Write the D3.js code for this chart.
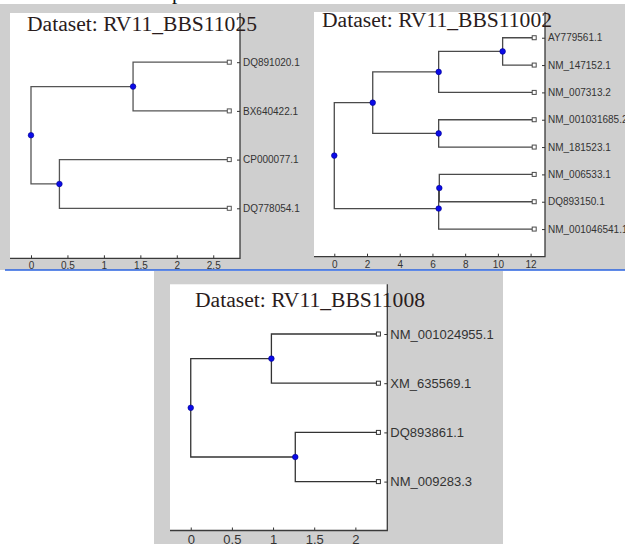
<!DOCTYPE html>
<html lang="en">
  <head>
    <meta charset="utf-8" />
    <title>Dendrograms</title>
    <script type="text/javascript" src="https://d3js.org/d3.v7.min.js"></script>
    <style>
      body { margin: 0; background: #fff; }
    </style>
  </head>
  <body>
    <script type="text/javascript">
      // Leaf names, top to bottom, and the joins (child indices, join distance)
      const leaves1 = ["DQ891020.1", "BX640422.1", "CP000077.1", "DQ778054.1"];
      const joins1 = [[0, 1], [2, 3], [4, 5]];
      const heights1 = [1.40, 0.39, 0];
      const leafDist1 = 2.72;
      const ticks1 = [0, 0.5, 1, 1.5, 2, 2.5];

      const leaves2 = ["AY779561.1", "NM_147152.1", "NM_007313.2", "NM_001031685.2",
                       "NM_181523.1", "NM_006533.1", "DQ893150.1", "NM_001046541.1"];
      const joins2 = [[0, 1], [8, 2], [3, 4], [9, 10], [5, 6], [12, 7], [11, 13]];
      const heights2 = [10.29, 6.38, 6.38, 2.35, 6.42, 6.38, 0];
      const leafDist2 = 12.22;
      const ticks2 = [0, 2, 4, 6, 8, 10, 12];

      const leaves3 = ["NM_001024955.1", "XM_635569.1", "DQ893861.1", "NM_009283.3"];
      const joins3 = [[0, 1], [2, 3], [4, 5]];
      const heights3 = [0.98, 1.27, 0];
      const leafDist3 = 2.28;
      const ticks3 = [0, 0.5, 1, 1.5, 2];

      const GRAY = "#cfcfcf";
      const LINE = "#4a4a4a";
      const NODE_BLUE = "#0b0be8";

      const svg = d3.select("body").append("svg")
        .attr("width", 625).attr("height", 544);

      // screenshot backgrounds
      svg.append("rect").attr("x", 0).attr("y", 4).attr("width", 625).attr("height", 266).attr("fill", GRAY);
      svg.append("rect").attr("x", 154).attr("y", 271).attr("width", 349).attr("height", 273).attr("fill", GRAY);
      svg.append("line").attr("x1", 5).attr("x2", 625).attr("y1", 270).attr("y2", 270)
        .attr("stroke", "#2a63e0").attr("stroke-width", 1.5);

      // cut-off caption above
      svg.append("text").attr("x", 172).attr("y", -1)
        .style("font-family", "'Liberation Serif', serif").style("font-size", "21px")
        .attr("fill", "#111").text("p");

      function drawTree(cfg) {
        const g = svg.append("g");
        const n = cfg.leaves.length;

        // white plot area
        g.append("rect")
          .attr("x", cfg.left).attr("y", cfg.top)
          .attr("width", cfg.right - cfg.left).attr("height", cfg.axisY - cfg.top)
          .attr("fill", "#fff");

        const x = d3.scaleLinear().domain(cfg.xDomain).range([cfg.left, cfg.right]);
        const y = d3.scaleLinear().domain([0, n + 1]).range(cfg.yRange);

        // build nodes: leaves first, then joins
        const nodes = cfg.leaves.map((name, i) => ({ name: name, pos: i + 1, dist: cfg.leafDist, leaf: true }));
        cfg.joins.forEach((j, k) => {
          const a = nodes[j[0]], b = nodes[j[1]];
          nodes.push({ pos: (a.pos + b.pos) / 2, dist: cfg.heights[k], kids: [a, b] });
        });
        const inner = nodes.filter((d) => !d.leaf);

        // elbow branches
        const branches = [];
        inner.forEach((p) => p.kids.forEach((c) => branches.push({ p: p, c: c })));
        g.selectAll(".branch").data(branches).enter().append("path")
          .attr("class", "branch")
          .attr("fill", "none")
          .attr("stroke", cfg.lineColor)
          .attr("stroke-width", 1.3)
          .attr("d", (d) => "M" + x(d.p.dist) + "," + y(d.p.pos) + "V" + y(d.c.pos) + "H" + x(d.c.dist));

        // leaf squares
        g.selectAll(".leaf").data(nodes.filter((d) => d.leaf)).enter().append("rect")
          .attr("class", "leaf")
          .attr("x", (d) => x(d.dist) - 2).attr("y", (d) => y(d.pos) - 2)
          .attr("width", 4).attr("height", 4)
          .attr("fill", "#fff").attr("stroke", cfg.lineColor).attr("stroke-width", 1);

        // internal node dots
        g.selectAll(".node").data(inner).enter().append("circle")
          .attr("class", "node")
          .attr("cx", (d) => x(d.dist)).attr("cy", (d) => y(d.pos))
          .attr("r", 2.8)
          .attr("fill", NODE_BLUE).attr("stroke", "#00008a").attr("stroke-width", 0.6);

        // bottom axis
        const xAxis = g.append("g")
          .attr("transform", "translate(0," + cfg.axisY + ")")
          .call(d3.axisBottom(x).tickValues(cfg.ticks).tickFormat(d3.format("")).tickSizeInner(-3).tickSizeOuter(0).tickPadding(4));
        // right axis with leaf names
        const yAxis = g.append("g")
          .attr("transform", "translate(" + cfg.right + ",0)")
          .call(d3.axisRight(y).tickValues(d3.range(1, n + 1)).tickFormat((i) => cfg.leaves[i - 1]).tickSizeInner(-3).tickSizeOuter(0).tickPadding(3));

        [xAxis, yAxis].forEach((ax) => {
          ax.select(".domain").remove();
          ax.selectAll("line").attr("stroke", "#333");
          ax.selectAll("text")
            .attr("fill", "#333")
            .style("font-family", "'Liberation Sans', Arial, sans-serif")
            .style("font-size", cfg.fontSize + "px");
        });

        // box edges: bottom and right
        g.append("path")
          .attr("fill", "none").attr("stroke", "#3a3a3a").attr("stroke-width", 1.3)
          .attr("d", "M" + cfg.left + "," + cfg.axisY + "H" + cfg.right + "V" + cfg.top);

        // title
        g.append("text")
          .attr("x", cfg.titleX).attr("y", cfg.titleY)
          .style("font-family", "'Liberation Serif', 'Times New Roman', serif")
          .style("font-size", "21.6px")
          .attr("fill", "#2a1c1c")
          .text(cfg.title);
      }

      drawTree({
        leaves: leaves1, joins: joins1, heights: heights1, leafDist: leafDist1, ticks: ticks1,
        title: "Dataset: RV11_BBS11025", titleX: 27, titleY: 31,
        left: 10, right: 240, top: 13, axisY: 258.3, yRange: [13.5, 257],
        xDomain: [-0.288, 2.867], fontSize: 10, lineColor: "#555"
      });

      drawTree({
        leaves: leaves2, joins: joins2, heights: heights2, leafDist: leafDist2, ticks: ticks2,
        title: "Dataset: RV11_BBS11002", titleX: 322, titleY: 27,
        left: 314, right: 545, top: 12, axisY: 256.7, yRange: [10.4, 256.4],
        xDomain: [-1.24, 12.88], fontSize: 10, lineColor: "#4a4a4a"
      });

      drawTree({
        leaves: leaves3, joins: joins3, heights: heights3, leafDist: leafDist3, ticks: ticks3,
        title: "Dataset: RV11_BBS11008", titleX: 195, titleY: 307,
        left: 170, right: 387.3, top: 284.3, axisY: 530.5, yRange: [284.8, 530.8],
        xDomain: [-0.252, 2.388], fontSize: 13, lineColor: "#333"
      });
    </script>
  </body>
</html>
